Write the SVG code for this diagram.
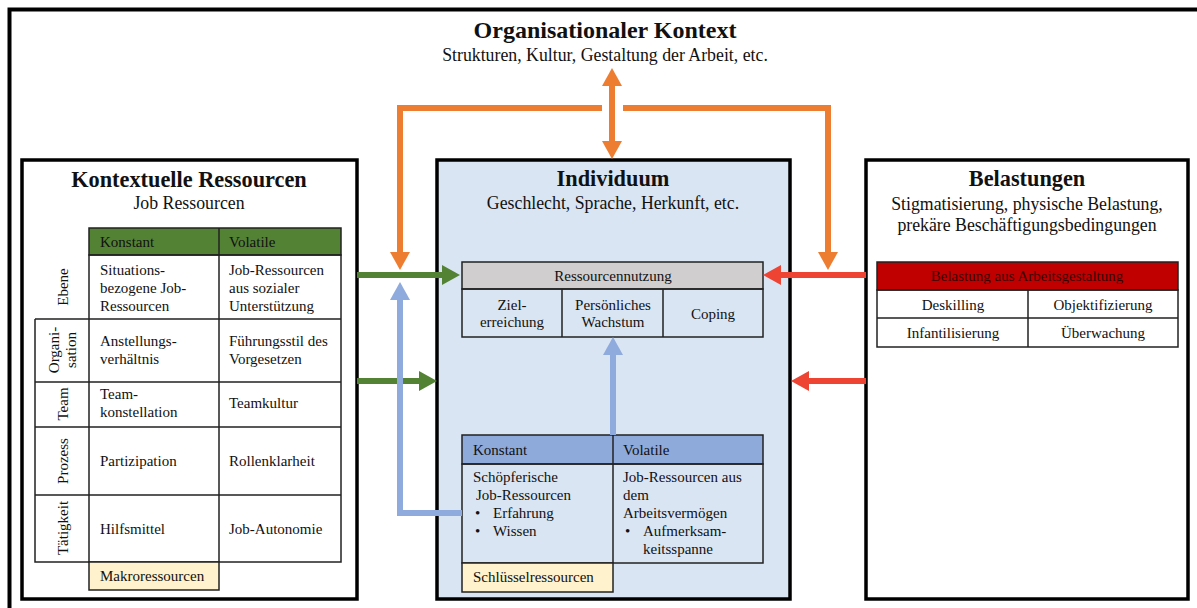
<svg xmlns="http://www.w3.org/2000/svg" width="1197" height="608" viewBox="0 0 1197 608">
<style>
text{font-family:"Liberation Serif","Times New Roman",serif;fill:#111}
.t{font-size:15px}
.s{font-size:15px}
.c{text-anchor:middle}
.h1{font-size:22.3px;font-weight:bold;text-anchor:middle}
.h2{font-size:17.8px;text-anchor:middle}
.box{stroke:#000;stroke-width:3.5}
.cell{fill:none;stroke:#222;stroke-width:1.5}
.ln{stroke:#222;stroke-width:1.5;fill:none}
.ar{fill:none;stroke-width:6;stroke-linejoin:miter}
</style>
<defs>
<marker id="mo" viewBox="0 0 18 20" refX="4" refY="10" markerWidth="18" markerHeight="20" markerUnits="userSpaceOnUse" orient="auto-start-reverse"><path d="M0,0 L18,10 L0,20 z" fill="#ED7D31"/></marker>
<marker id="mg" viewBox="0 0 18 20" refX="4" refY="10" markerWidth="18" markerHeight="20" markerUnits="userSpaceOnUse" orient="auto"><path d="M0,0 L18,10 L0,20 z" fill="#548235"/></marker>
<marker id="mb" viewBox="0 0 18 20" refX="4" refY="10" markerWidth="18" markerHeight="20" markerUnits="userSpaceOnUse" orient="auto"><path d="M0,0 L18,10 L0,20 z" fill="#8FAADC"/></marker>
<marker id="mr" viewBox="0 0 18 20" refX="4" refY="10" markerWidth="18" markerHeight="20" markerUnits="userSpaceOnUse" orient="auto"><path d="M0,0 L18,10 L0,20 z" fill="#EE4433"/></marker>
</defs>
<rect width="1197" height="608" fill="#fff"/>

<g id="kontext">
<rect x="9.5" y="9.5" width="1200" height="610" fill="none" stroke="#000" stroke-width="4"/>
<text x="605" y="38" class="h1" style="font-size:24px">Organisationaler Kontext</text>
<text x="605" y="61" class="h2">Strukturen, Kultur, Gestaltung der Arbeit, etc.</text>
</g>

<g id="kontextuelle">
<rect x="22" y="160" width="335" height="439" fill="#fff" class="box"/>
<text x="189" y="187" class="h1">Kontextuelle Ressourcen</text>
<text x="189" y="209" class="h2">Job Ressourcen</text>
<rect x="89" y="228" width="252" height="27" fill="#548235" stroke="#222" stroke-width="1.5"/>
<line x1="219" y1="228" x2="219" y2="255" class="ln"/>
<rect x="89" y="255" width="252" height="307" class="cell"/>
<path d="M35,319 H341 M35,382 H341 M35,427 H341 M35,495 H341 M35,319 V562 H89 M219,255 V562" class="ln"/>
<rect x="89" y="562" width="130" height="28" fill="#FFF2CC" stroke="#222" stroke-width="1.5"/>
<text x="100" y="247" class="t">Konstant</text>
<text x="229" y="247" class="t">Volatile</text>
<text class="t c" transform="translate(68,287) rotate(-90)">Ebene</text>
<text class="t c" transform="translate(59,350) rotate(-90)">Organi-</text>
<text class="t c" transform="translate(76,350) rotate(-90)">sation</text>
<text class="t c" transform="translate(68,404) rotate(-90)">Team</text>
<text class="t c" transform="translate(68,461) rotate(-90)">Prozess</text>
<text class="t c" transform="translate(68,528) rotate(-90)">Tätigkeit</text>
<text x="100" y="275" class="t">Situations-</text>
<text x="100" y="293" class="t">bezogene Job-</text>
<text x="100" y="311" class="t">Ressourcen</text>
<text x="229" y="275" class="t">Job-Ressourcen</text>
<text x="229" y="293" class="t">aus sozialer</text>
<text x="229" y="311" class="t">Unterstützung</text>
<text x="100" y="346" class="t">Anstellungs-</text>
<text x="100" y="364" class="t">verhältnis</text>
<text x="229" y="346" class="t">Führungsstil des</text>
<text x="229" y="364" class="t">Vorgesetzen</text>
<text x="100" y="399" class="t">Team-</text>
<text x="100" y="417" class="t">konstellation</text>
<text x="229" y="408" class="t">Teamkultur</text>
<text x="100" y="466" class="t">Partizipation</text>
<text x="229" y="466" class="t">Rollenklarheit</text>
<text x="100" y="534" class="t">Hilfsmittel</text>
<text x="229" y="534" class="t">Job-Autonomie</text>
<text x="100" y="581" class="s">Makroressourcen</text>
</g>

<g id="individuum">
<rect x="437" y="160" width="353" height="439" fill="#DAE5F3" class="box"/>
<text x="613" y="186" class="h1">Individuum</text>
<text x="613" y="209" class="h2">Geschlecht, Sprache, Herkunft, etc.</text>
<rect x="462" y="262" width="301" height="27" fill="#D0CECE" stroke="#222" stroke-width="1.5"/>
<rect x="462" y="289" width="301" height="48" class="cell"/>
<path d="M562,289 V337 M663,289 V337" class="ln"/>
<text x="613" y="281" class="s c">Ressourcennutzung</text>
<text x="512" y="310" class="s c">Ziel-</text>
<text x="512" y="327" class="s c">erreichung</text>
<text x="613" y="310" class="s c">Persönliches</text>
<text x="613" y="327" class="s c">Wachstum</text>
<text x="713" y="319" class="s c">Coping</text>
<rect x="462" y="435" width="301" height="29" fill="#8EAADB" stroke="#222" stroke-width="1.5"/>
<rect x="462" y="464" width="301" height="99" class="cell"/>
<path d="M613,435 V563" class="ln"/>
<rect x="462" y="563" width="151" height="29" fill="#FFF2CC" stroke="#222" stroke-width="1.5"/>
<text x="473" y="455" class="t">Konstant</text>
<text x="623" y="455" class="t">Volatile</text>
<text x="473" y="482" class="t">Schöpferische</text>
<text x="476" y="500" class="t">Job-Ressourcen</text>
<text x="475" y="518" class="t">•</text>
<text x="493" y="518" class="t">Erfahrung</text>
<text x="475" y="536" class="t">•</text>
<text x="493" y="536" class="t">Wissen</text>
<text x="623" y="482" class="t">Job-Ressourcen aus</text>
<text x="623" y="500" class="t">dem</text>
<text x="623" y="518" class="t">Arbeitsvermögen</text>
<text x="625" y="536" class="t">•</text>
<text x="643" y="536" class="t">Aufmerksam-</text>
<text x="643" y="554" class="t">keitsspanne</text>
<text x="473" y="582" class="s">Schlüsselressourcen</text>
</g>

<g id="belastungen">
<rect x="866" y="160" width="322" height="439" fill="#fff" class="box"/>
<text x="1027" y="186" class="h1">Belastungen</text>
<text x="1027" y="210" class="h2">Stigmatisierung, physische Belastung,</text>
<text x="1027" y="231" class="h2">prekäre Beschäftigungsbedingungen</text>
<rect x="877" y="262" width="301" height="28" fill="#C00000" stroke="#222" stroke-width="1.5"/>
<rect x="877" y="290" width="301" height="57" class="cell"/>
<path d="M877,318 H1178 M1028,290 V347" class="ln"/>
<text x="1027" y="281" class="s c" style="fill:#3a0000">Belastung aus Arbeitsgestaltung</text>
<text x="953" y="310" class="t c">Deskilling</text>
<text x="1103" y="310" class="t c">Objektifizierung</text>
<text x="953" y="338" class="t c">Infantilisierung</text>
<text x="1103" y="338" class="t c">Überwachung</text>
</g>

<g id="connectors">
<path d="M612,82 V145" class="ar" stroke="#ED7D31" marker-start="url(#mo)" marker-end="url(#mo)"/>
<path d="M602,108 H400 V256" class="ar" stroke="#ED7D31" marker-end="url(#mo)"/>
<path d="M623,108 H828 V256" class="ar" stroke="#ED7D31" marker-end="url(#mo)"/>
<path d="M357,275 H446" class="ar" stroke="#548235" marker-end="url(#mg)"/>
<path d="M357,381 H423" class="ar" stroke="#548235" marker-end="url(#mg)"/>
<path d="M462,513 H400 V296" class="ar" stroke="#8FAADC" marker-end="url(#mb)"/>
<path d="M613,435 V351" class="ar" stroke="#8FAADC" marker-end="url(#mb)"/>
<path d="M866,275 H777" class="ar" stroke="#EE4433" marker-end="url(#mr)"/>
<path d="M866,381 H805" class="ar" stroke="#EE4433" marker-end="url(#mr)"/>
</g>
</svg>
